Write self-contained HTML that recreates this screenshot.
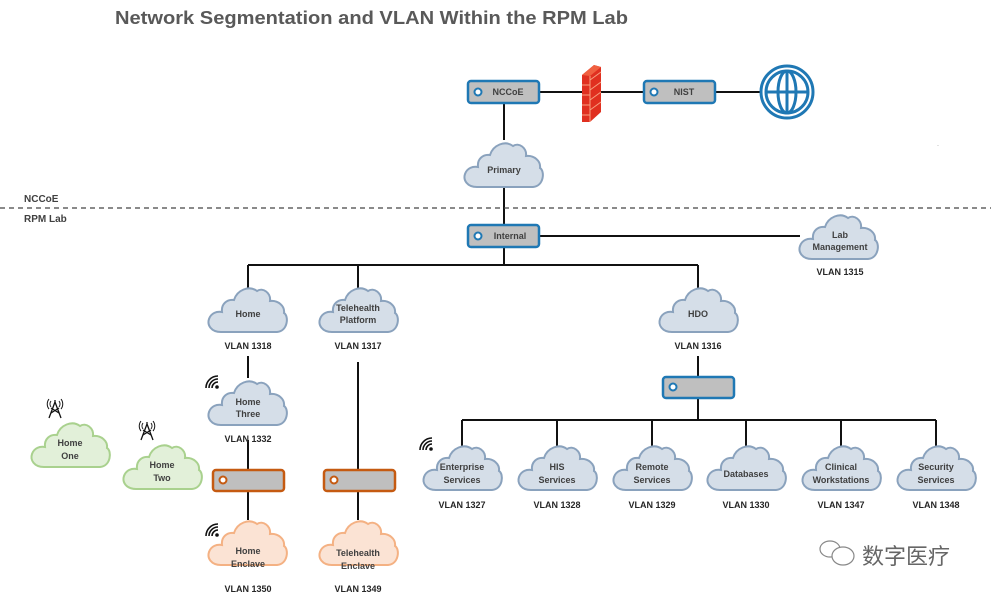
<!DOCTYPE html>
<html><head><meta charset="utf-8"><style>
html,body{margin:0;padding:0;background:#fff;}
svg{display:block;}
text{font-family:"Liberation Sans","Noto Sans CJK SC",sans-serif;}
.cl{font-size:9px;font-weight:bold;fill:#404040;text-anchor:middle;}
.vl{font-size:9px;font-weight:bold;fill:#262626;text-anchor:middle;}
.ln{stroke:#111;stroke-width:2;fill:none;}
</style></head><body>
<svg width="991" height="600" viewBox="0 0 991 600" xmlns="http://www.w3.org/2000/svg">
<defs>
<path id="cloud" d="M14,47 C4,47 0,40 2,34 C4,28 10,26 15,27 C14,19 20,14 27,15 C30,5 42,0 50,6 C56,2 64,8 63,16 C71,15 78,21 77,28 C82,31 81,46 70,47 Z"/>
<g id="wifi"><path d="M2,14 A12,12 0 0 1 14,2 M5,14 A9,9 0 0 1 14,5 M8,14 A6,6 0 0 1 14,8" stroke="#111" stroke-width="1.6" fill="none"/><circle cx="13" cy="13" r="1.8" fill="#111"/></g>
<g id="ant"><path d="M0,20 L6,4 L12,20 M2,15 L10,10 M10,15 L2,10 M6,4 L6,2" stroke="#111" stroke-width="1.3" fill="none"/><path d="M2,3 A5,5 0 0 0 2,9 M10,3 A5,5 0 0 1 10,9 M0,1 A8,8 0 0 0 0,11 M12,1 A8,8 0 0 1 12,11" stroke="#111" stroke-width="1" fill="none"/></g>
</defs>

<text x="115" y="24" font-size="18" font-weight="bold" fill="#595959" textLength="513" lengthAdjust="spacingAndGlyphs">Network Segmentation and VLAN Within the RPM Lab</text>

<path class="ln" d="M539,92 H643 M715,92 H760 M504,103 V140 M504,188 V225 M539,236 H800 M504,247 V265 M248,265 H698 M248,265 V288 M358,265 V288 M698,265 V288 M248,356 V378 M248,440 V470 M248,491 V520 M358,362 V470 M358,491 V520 M698,356 V377 M698,398 V420 M462,420 H936 M462,420 V446 M557,420 V446 M652,420 V446 M746,420 V446 M841,420 V446 M936,420 V446"/>
<line x1="0" y1="208" x2="991" y2="208" stroke="#444" stroke-width="1.2" stroke-dasharray="5,4"/>
<text x="24" y="202" font-size="10" font-weight="bold" fill="#404040">NCCoE</text>
<text x="24" y="222" font-size="10" font-weight="bold" fill="#404040">RPM Lab</text>

<g>
<polygon points="582,75 594,65 601,67 601,112 590,122 582,122" fill="#e03020"/>
<polygon points="582,75 594,65 601,67 590,76" fill="#f06040"/>
<path d="M582,85 H590 M582,95 H590 M582,105 H590 M582,115 H590 M590,76 V122 M590,80 L601,72 M590,90 L601,82 M590,100 L601,92 M590,110 L601,102" stroke="#f7a080" stroke-width="1"/>
</g>

<g stroke="#1f78b4" fill="none" stroke-width="3">
<circle cx="787" cy="92" r="26" fill="#fff"/>
<circle cx="787" cy="92" r="21"/>
<ellipse cx="787" cy="92" rx="9" ry="21"/>
<line x1="787" y1="71" x2="787" y2="113"/>
<line x1="766" y1="92" x2="808" y2="92"/>
</g>

<g stroke-width="2.5">
<rect x="468" y="81" width="71" height="22" rx="3" fill="#bfbfbf" stroke="#1f78b4"/>
<circle cx="478" cy="92" r="3.5" fill="#fff" stroke="#1f78b4" stroke-width="2"/>
<rect x="644" y="81" width="71" height="22" rx="3" fill="#bfbfbf" stroke="#1f78b4"/>
<circle cx="654" cy="92" r="3.5" fill="#fff" stroke="#1f78b4" stroke-width="2"/>
<rect x="468" y="225" width="71" height="22" rx="3" fill="#bfbfbf" stroke="#1f78b4"/>
<circle cx="478" cy="236" r="3.5" fill="#fff" stroke="#1f78b4" stroke-width="2"/>
<rect x="663" y="377" width="71" height="21" rx="3" fill="#bfbfbf" stroke="#1f78b4"/>
<circle cx="673" cy="387" r="3.5" fill="#fff" stroke="#1f78b4" stroke-width="2"/>
<rect x="213" y="470" width="71" height="21" rx="3" fill="#bfbfbf" stroke="#c55a11"/>
<circle cx="223" cy="480" r="3.5" fill="#fff" stroke="#c55a11" stroke-width="2"/>
<rect x="324" y="470" width="71" height="21" rx="3" fill="#bfbfbf" stroke="#c55a11"/>
<circle cx="334" cy="480" r="3.5" fill="#fff" stroke="#c55a11" stroke-width="2"/>
</g>
<text x="508" y="95" class="cl">NCCoE</text>
<text x="684" y="95" class="cl">NIST</text>
<text x="510" y="239" class="cl">Internal</text>

<g fill="#d5dee8" stroke="#8aa2bd" stroke-width="2">
<use href="#cloud" x="463" y="140"/>
<use href="#cloud" x="798" y="212"/>
<use href="#cloud" x="207" y="285"/>
<use href="#cloud" x="318" y="285"/>
<use href="#cloud" x="658" y="285"/>
<use href="#cloud" x="207" y="378"/>
<use href="#cloud" x="422" y="443"/>
<use href="#cloud" x="517" y="443"/>
<use href="#cloud" x="612" y="443"/>
<use href="#cloud" x="706" y="443"/>
<use href="#cloud" x="801" y="443"/>
<use href="#cloud" x="896" y="443"/>
</g>
<g fill="#e2f0d9" stroke="#a9d18e" stroke-width="2">
<use href="#cloud" x="30" y="420"/>
<use href="#cloud" x="122" y="442"/>
</g>
<g fill="#fbe3d4" stroke="#f4b183" stroke-width="2">
<use href="#cloud" x="207" y="518"/>
<use href="#cloud" x="318" y="518"/>
</g>

<text class="cl" x="504" y="173">Primary</text>
<text class="cl" x="840" y="238">Lab</text><text class="cl" x="840" y="250">Management</text>
<text class="vl" x="840" y="275">VLAN 1315</text>
<text class="cl" x="248" y="317">Home</text>
<text class="cl" x="358" y="311">Telehealth</text><text class="cl" x="358" y="323">Platform</text>
<text class="cl" x="698" y="317">HDO</text>
<text class="vl" x="248" y="349">VLAN 1318</text>
<text class="vl" x="358" y="349">VLAN 1317</text>
<text class="vl" x="698" y="349">VLAN 1316</text>
<text class="cl" x="248" y="405">Home</text><text class="cl" x="248" y="417">Three</text>
<text class="vl" x="248" y="442">VLAN 1332</text>
<text class="cl" x="70" y="446">Home</text><text class="cl" x="70" y="459">One</text>
<text class="cl" x="162" y="468">Home</text><text class="cl" x="162" y="481">Two</text>
<text class="cl" x="248" y="554">Home</text><text class="cl" x="248" y="567">Enclave</text>
<text class="cl" x="358" y="556">Telehealth</text><text class="cl" x="358" y="569">Enclave</text>
<text class="vl" x="248" y="592">VLAN 1350</text>
<text class="vl" x="358" y="592">VLAN 1349</text>

<text class="cl" x="462" y="470">Enterprise</text><text class="cl" x="462" y="483">Services</text>
<text class="cl" x="557" y="470">HIS</text><text class="cl" x="557" y="483">Services</text>
<text class="cl" x="652" y="470">Remote</text><text class="cl" x="652" y="483">Services</text>
<text class="cl" x="746" y="477">Databases</text>
<text class="cl" x="841" y="470">Clinical</text><text class="cl" x="841" y="483">Workstations</text>
<text class="cl" x="936" y="470">Security</text><text class="cl" x="936" y="483">Services</text>
<text class="vl" x="462" y="508">VLAN 1327</text>
<text class="vl" x="557" y="508">VLAN 1328</text>
<text class="vl" x="652" y="508">VLAN 1329</text>
<text class="vl" x="746" y="508">VLAN 1330</text>
<text class="vl" x="841" y="508">VLAN 1347</text>
<text class="vl" x="936" y="508">VLAN 1348</text>

<use href="#wifi" x="204" y="374"/>
<use href="#wifi" x="204" y="522"/>
<use href="#wifi" x="418" y="436"/>
<use href="#ant" x="49" y="398"/>
<use href="#ant" x="141" y="420"/>

<g stroke="#888" fill="#fff" stroke-width="1.2">
<ellipse cx="830" cy="549" rx="10" ry="8"/>
<ellipse cx="843" cy="556" rx="11" ry="9"/>
</g>
<text x="862" y="564" font-size="22" fill="#666" font-family="'Noto Sans CJK SC',sans-serif">数字医疗</text>
<text x="937" y="147" font-size="6" fill="#666">·</text>
</svg>
</body></html>
